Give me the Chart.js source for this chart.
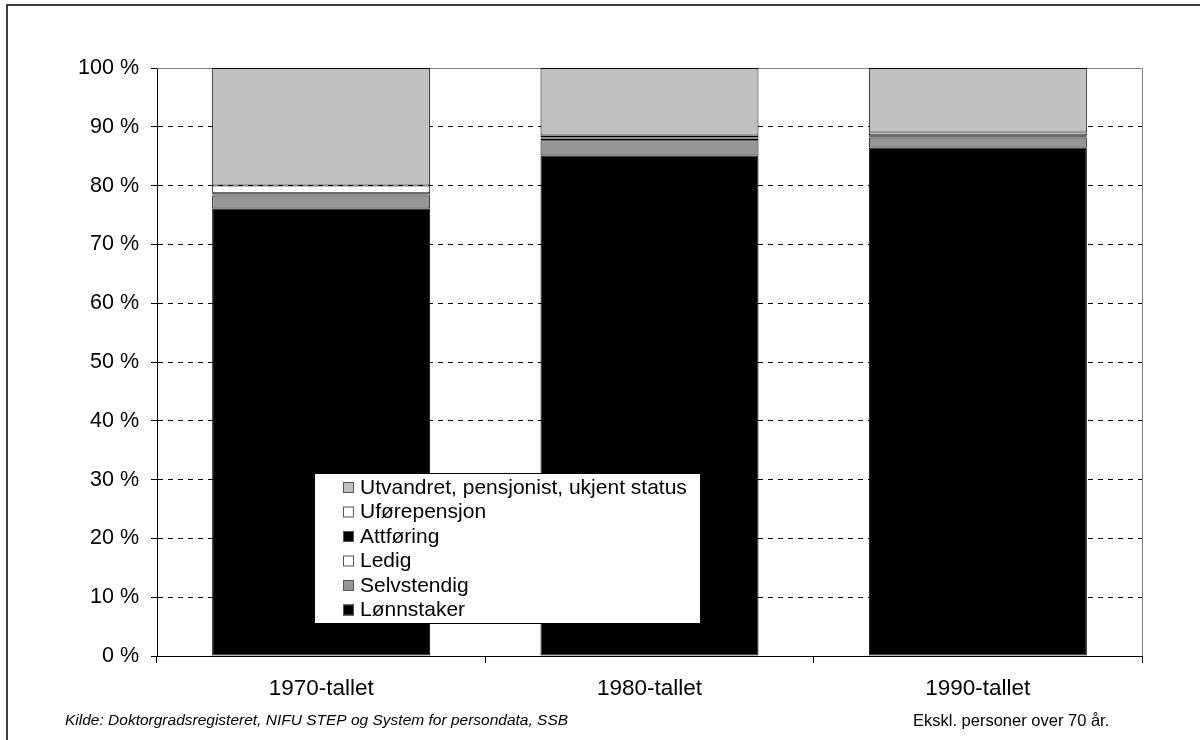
<!DOCTYPE html>
<html lang="no">
<head>
    <meta charset="UTF-8">
    <title>Doktorgrader etter status</title>
    <script src="https://cdn.jsdelivr.net/npm/chart.js"></script>
    <style>
        body { margin: 0; background: #fff; }
        #wrap { width: 1200px; height: 740px; position: relative; }
    </style>
</head>
<body>
    <div id="wrap">
        <canvas id="statusChart" width="1200" height="740"></canvas>
    </div>

    <script>
        // Data lest av figuren (prosent)
        const kategorier = ['1970-tallet', '1980-tallet', '1990-tallet'];
        const lonnstaker = [76.1, 85.1, 86.5];
        const selvstendig = [2.2, 2.6, 1.7];
        const ledig = [0.2, 0.3, 0.2];
        const attforing = [0.2, 0.2, 0.15];
        const uforepensjon = [1.3, 0.3, 0.5];
        const utvandret = [20.0, 11.5, 10.95];
        const yTicks = [0, 10, 20, 30, 40, 50, 60, 70, 80, 90, 100];

        const FONT = "'Liberation Sans', Arial, sans-serif";

        function serie(label, data, farge) {
            return {
                label: label,
                data: data,
                backgroundColor: farge,
                borderColor: '#000',
                borderWidth: 1,
                borderSkipped: false,
                barPercentage: 0.664,
                categoryPercentage: 1.0
            };
        }

        // Ramme rundt plottet, ytre ramme, tekst nederst og forklaring
        const ekstra = {
            id: 'ekstra',
            beforeDatasetsDraw(chart) {
                const a = chart.chartArea;
                const ctx = chart.ctx;
                ctx.save();
                ctx.strokeStyle = '#808080';
                ctx.lineWidth = 1;
                ctx.beginPath();
                ctx.moveTo(a.left, a.top + 0.5);
                ctx.lineTo(a.right + 0.5, a.top + 0.5);
                ctx.lineTo(a.right + 0.5, a.bottom);
                ctx.stroke();
                ctx.restore();
            },
            afterDraw(chart) {
                const ctx = chart.ctx;
                ctx.save();
                // ytre ramme
                ctx.strokeStyle = '#000';
                ctx.lineWidth = 1.5;
                ctx.strokeRect(7, 5, 1200, 760);

                // kildetekst
                ctx.fillStyle = '#000';
                ctx.textBaseline = 'middle';
                ctx.font = 'italic 15.5px ' + FONT;
                ctx.fillText('Kilde: Doktorgradsregisteret, NIFU STEP og System for persondata, SSB', 65, 721);
                ctx.font = '16.5px ' + FONT;
                ctx.fillText('Ekskl. personer over 70 år.', 913, 721);

                // forklaring
                const x = 314, y = 473, w = 386, h = 150;
                ctx.fillStyle = '#fff';
                ctx.fillRect(x, y, w, h);
                ctx.strokeStyle = '#000';
                ctx.lineWidth = 1;
                ctx.strokeRect(x + 0.5, y + 0.5, w, h);
                ctx.font = '21px ' + FONT;
                const ds = chart.data.datasets.slice().reverse();
                ds.forEach((d, i) => {
                    const cy = 487 + i * 24.5;
                    ctx.fillStyle = d.backgroundColor;
                    ctx.fillRect(343, cy - 5, 11, 11);
                    ctx.strokeStyle = '#555';
                    ctx.strokeRect(343.5, cy - 4.5, 10, 10);
                    ctx.fillStyle = '#000';
                    ctx.fillText(d.label, 360, cy + 1);
                });
                ctx.restore();
            }
        };

        const statusChart = new Chart(document.getElementById('statusChart'), {
            type: 'bar',
            data: {
                labels: kategorier,
                datasets: [
                    serie('Lønnstaker', lonnstaker, '#000000'),
                    serie('Selvstendig', selvstendig, '#969696'),
                    serie('Ledig', ledig, '#ffffff'),
                    serie('Attføring', attforing, '#000000'),
                    serie('Uførepensjon', uforepensjon, '#ffffff'),
                    serie('Utvandret, pensjonist, ukjent status', utvandret, '#c0c0c0')
                ]
            },
            options: {
                responsive: false,
                animation: false,
                layout: { padding: { top: 68, right: 58, left: 0, bottom: 0 } },
                plugins: {
                    legend: { display: false },
                    tooltip: { enabled: false }
                },
                scales: {
                    x: {
                        stacked: true,
                        afterFit: s => { s.height = 84; },
                        grid: {
                            offset: true,
                            drawOnChartArea: false,
                            drawTicks: true,
                            tickLength: 7,
                            color: '#000'
                        },
                        border: { color: '#000', width: 1 },
                        ticks: {
                            color: '#000',
                            padding: 12,
                            font: { family: FONT, size: 22.5 }
                        }
                    },
                    y: {
                        stacked: true,
                        min: 0,
                        max: 100,
                        afterFit: s => { s.width = 157; },
                        afterBuildTicks: s => { s.ticks = yTicks.map(v => ({ value: v })); },
                        grid: {
                            color: '#000',
                            tickBorderDash: [],
                            tickLength: 6,
                            drawTicks: true
                        },
                        border: { color: '#000', width: 1, dash: [5, 5] },
                        ticks: {
                            color: '#000',
                            padding: 12,
                            font: { family: FONT, size: 21.5 },
                            callback: v => v + ' %'
                        }
                    }
                }
            },
            plugins: [ekstra]
        });
    </script>
</body>
</html>
